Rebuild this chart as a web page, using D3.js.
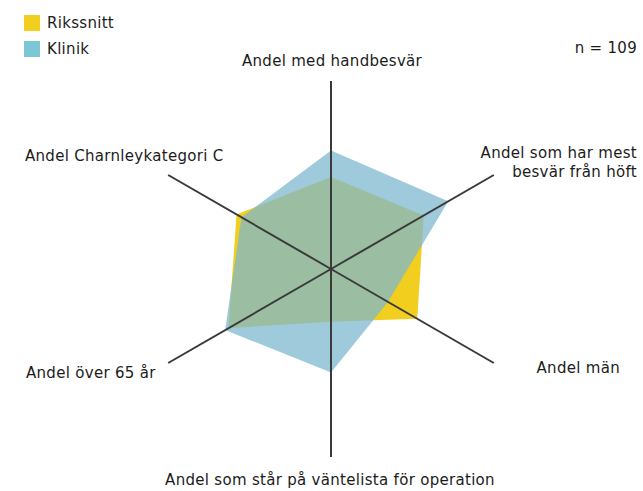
<!DOCTYPE html>
<html>
<head>
<meta charset="utf-8">
<script src="https://cdn.jsdelivr.net/npm/d3@7"></script>
<style>
  body { margin: 0; background: #fff; }
  text { font-family: "DejaVu Sans", Verdana, sans-serif; font-size: 15px; letter-spacing: 0.3px; fill: #1c1c1c; }
</style>
</head>
<body>
<div id="chart"></div>
<script>
// axes, clockwise from top
const axes = [
  "Andel med handbesvär",
  "Andel som har mest besvär från höft",
  "Andel män",
  "Andel som står på väntelista för operation",
  "Andel över 65 år",
  "Andel Charnleykategori C"
];
const rikssnitt = [0.49, 0.57, 0.53, 0.28, 0.63, 0.58];
const klinik = [0.63, 0.72, 0.35, 0.55, 0.65, 0.55];
const seriesNames = ["Rikssnitt", "Klinik"];
const nLabel = "n = 109";

const width = 643, height = 491;
const cx = 331, cy = 269, R = 188;
const colors = { Rikssnitt: "#f2cf1f", Klinik: "#7cc6d6" };

const svg = d3.select("#chart").append("svg")
  .attr("width", width)
  .attr("height", height);

const r = d3.scaleLinear().domain([0, 1]).range([0, R]);
const angle = d3.scaleLinear().domain([0, axes.length]).range([0, 2 * Math.PI]);

const g = svg.append("g").attr("transform", `translate(${cx},${cy})`);

const radar = d3.lineRadial()
  .angle((d, i) => angle(i))
  .radius(d => r(d))
  .curve(d3.curveLinearClosed);

g.append("path")
  .attr("d", radar(rikssnitt))
  .attr("fill", colors.Rikssnitt);

g.append("path")
  .attr("d", radar(klinik))
  .attr("fill", "#7db8cf")
  .attr("fill-opacity", 0.75);

// axis lines
g.selectAll("line.axis")
  .data(axes)
  .join("line")
  .attr("class", "axis")
  .attr("x1", 0).attr("y1", 0)
  .attr("x2", (d, i) => d3.pointRadial(angle(i), r(1))[0])
  .attr("y2", (d, i) => d3.pointRadial(angle(i), r(1))[1])
  .attr("stroke", "#3a3a3a")
  .attr("stroke-width", 2);

// axis labels (placed by hand like the original)
const labelPos = [
  { x: 332, y: 66, anchor: "middle", lines: ["Andel med handbesvär"] },
  { x: 637, y: 158, anchor: "end", lines: ["Andel som har mest", "besvär från höft"] },
  { x: 620, y: 373, anchor: "end", lines: ["Andel män"] },
  { x: 330, y: 485, anchor: "middle", lines: ["Andel som står på väntelista för operation"] },
  { x: 26, y: 378, anchor: "start", lines: ["Andel över 65 år"] },
  { x: 25, y: 161, anchor: "start", lines: ["Andel Charnleykategori C"] }
];

labelPos.forEach(p => {
  const t = svg.append("text")
    .attr("x", p.x).attr("y", p.y)
    .attr("text-anchor", p.anchor);
  p.lines.forEach((l, j) => {
    t.append("tspan").attr("x", p.x).attr("dy", j === 0 ? 0 : 19).text(l);
  });
});

svg.append("text")
  .attr("x", 637).attr("y", 53)
  .attr("text-anchor", "end")
  .text(nLabel);

// legend
const legend = svg.selectAll("g.legend")
  .data(seriesNames)
  .join("g")
  .attr("class", "legend")
  .attr("transform", (d, i) => `translate(24,${15 + i * 26})`);

legend.append("rect")
  .attr("width", 16).attr("height", 16)
  .attr("fill", d => colors[d]);

legend.append("text")
  .attr("x", 23).attr("y", 13)
  .text(d => d);
</script>
</body>
</html>
